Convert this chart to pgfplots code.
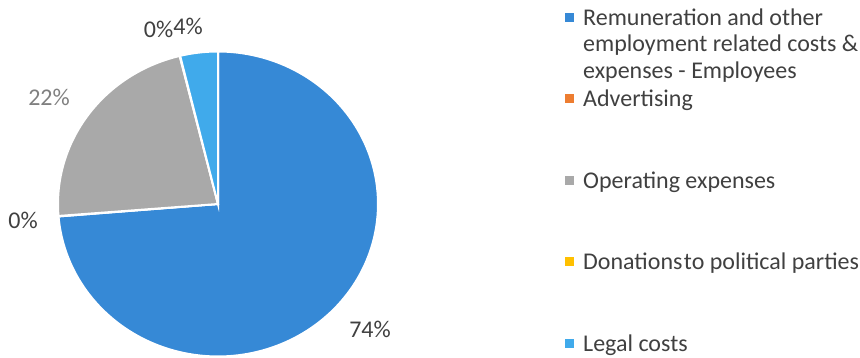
\documentclass[border=0pt]{standalone}
\usepackage{pgfplots}
\usepackage{pgfplotstable}
\pgfplotsset{compat=1.18}
\usepackage{fontspec}
\setmainfont{Carlito}
\definecolor{cA}{HTML}{3689D6}
\definecolor{cB}{HTML}{ED7D31}
\definecolor{cC}{HTML}{A9A9A9}
\definecolor{cD}{HTML}{FFC000}
\definecolor{cE}{HTML}{40AAEB}
\definecolor{txt}{HTML}{404040}
\definecolor{txtg}{HTML}{808080}
\pgfplotstableread{
name value
A 73.7
B 0.05
C 22.4
D 0.05
E 3.8
}\piedata
\newcommand\lent[1]{\parbox[t]{290pt}{#1}}
\begin{document}
\begin{tikzpicture}
\pgfplotstablegetelem{0}{value}\of\piedata \let\vA\pgfplotsretval
\pgfplotstablegetelem{1}{value}\of\piedata \let\vB\pgfplotsretval
\pgfplotstablegetelem{2}{value}\of\piedata \let\vC\pgfplotsretval
\pgfplotstablegetelem{3}{value}\of\piedata \let\vD\pgfplotsretval
\pgfplotstablegetelem{4}{value}\of\piedata \let\vE\pgfplotsretval
\pgfmathsetmacro\sO{90}
\pgfmathsetmacro\sA{\sO-3.6*\vA}
\pgfmathsetmacro\sB{\sA-3.6*\vB}
\pgfmathsetmacro\sC{\sB-3.6*\vC}
\pgfmathsetmacro\sD{\sC-3.6*\vD}
\pgfmathsetmacro\sE{\sD-3.6*\vE}
\useasboundingbox (0,0) rectangle (860pt,358pt);
\begin{axis}[
  at={(0,0)}, anchor=south west,
  scale only axis, width=860pt, height=358pt,
  xmin=0, xmax=860, ymin=0, ymax=358,
  hide axis, clip=false,
  legend image code/.code={\fill[#1,draw=none] (0pt,3.5pt) rectangle (9pt,12.5pt);},
  legend style={at={(axis cs:565,351)}, anchor=north west, draw=none, fill=none,
    inner sep=0pt, row sep=0pt, column sep=9pt,
    cells={anchor=base west},
    nodes={inner sep=0pt, text=txt, text height=18pt, text depth=63.5pt},
    font=\fontsize{24}{26.7}\selectfont},
]
\addplot[fill=cA, draw=white, line width=2pt, domain=\sA:\sO, samples=150, variable=\t]
  ({218+160*cos(\t)}, {154+152.5*sin(\t)}) -- (axis cs:218,154) -- cycle;
\addlegendentry{\lent{Remuneration and other\\employment related costs \&\\expenses - Employees}}
\addplot[fill=cB, draw=white, line width=2pt, domain=\sB:\sA, samples=5, variable=\t]
  ({218+160*cos(\t)}, {154+152.5*sin(\t)}) -- (axis cs:218,154) -- cycle;
\addlegendentry{\lent{Advertising}}
\addplot[fill=cC, draw=white, line width=2pt, domain=\sC:\sB, samples=60, variable=\t]
  ({218+160*cos(\t)}, {154+152.5*sin(\t)}) -- (axis cs:218,154) -- cycle;
\addlegendentry{\lent{Operating expenses}}
\addplot[fill=cD, draw=white, line width=2pt, domain=\sD:\sC, samples=5, variable=\t]
  ({218+160*cos(\t)}, {154+152.5*sin(\t)}) -- (axis cs:218,154) -- cycle;
\addlegendentry{\lent{Donations\kern1.5pt to political parties}}
\addplot[fill=cE, draw=white, line width=2pt, domain=\sE:\sD, samples=20, variable=\t]
  ({218+160*cos(\t)}, {154+152.5*sin(\t)}) -- (axis cs:218,154) -- cycle;
\addlegendentry{\lent{Legal costs}}
\begin{scope}[font=\fontsize{24}{26.7}\selectfont]
\node[anchor=base, text=txt] at (axis cs:370,20) {74\%};
\node[anchor=base, text=txtg] at (axis cs:49,252) {22\%};
\node[anchor=base, text=txt] at (axis cs:23,129) {0\%};
\node[anchor=base, text=txt] at (axis cs:158.5,320) {0\%};
\node[anchor=base, text=txt] at (axis cs:188,323) {4\%};
\end{scope}
\end{axis}
\end{tikzpicture}
\end{document}
